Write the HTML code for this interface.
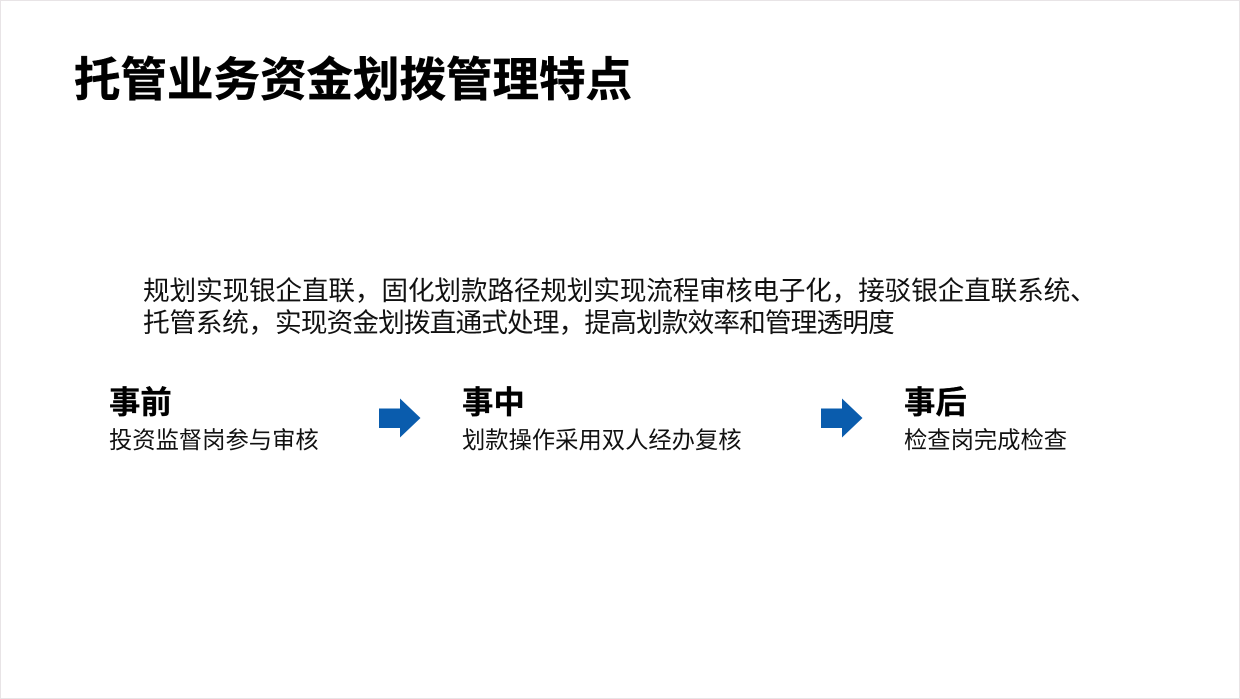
<!DOCTYPE html>
<html lang="zh">
<head>
<meta charset="utf-8">
<style>
html,body{margin:0;padding:0;background:#fff;}
#p{position:relative;width:1240px;height:699px;overflow:hidden;background:#fff;box-sizing:border-box;border:1.5px solid #e8e4e6;font-family:"Liberation Sans","Noto Sans CJK SC",sans-serif;color:#111;}
#p div.t{position:absolute;white-space:nowrap;}
svg{position:absolute;left:0;top:0;}
</style>
</head>
<body>
<div id="p">
<div class="t" style="left:73px;top:45px;font-size:46.5px;line-height:68px;font-weight:700;color:#000;-webkit-text-stroke:0.5px #000;">托管业务资金划拨管理特点</div>
<div class="t" style="left:142px;top:274px;font-size:26.7px;line-height:32px;letter-spacing:-0.2px;">规划实现银企直联，固化划款路径规划实现流程审核电子化，接驳银企直联系统、</div>
<div class="t" style="left:142px;top:306px;font-size:26.7px;line-height:32px;letter-spacing:-0.9px;"><span style="letter-spacing:-0.3px;">托管系统，</span>实现资金划拨直通式处理，提高划款效率和管理透明度</div>
<div class="t" style="left:108px;top:382px;font-size:31.4px;line-height:40px;font-weight:700;color:#000;-webkit-text-stroke:0.3px #000;">事前</div>
<div class="t" style="left:108px;top:423px;font-size:23.3px;line-height:32px;">投资监督岗参与审核</div>
<div class="t" style="left:461px;top:382px;font-size:31.4px;line-height:40px;font-weight:700;color:#000;-webkit-text-stroke:0.3px #000;">事中</div>
<div class="t" style="left:461px;top:423px;font-size:23.3px;line-height:32px;">划款操作采用双人经办复核</div>
<div class="t" style="left:903px;top:382px;font-size:31.4px;line-height:40px;font-weight:700;color:#000;-webkit-text-stroke:0.3px #000;">事后</div>
<div class="t" style="left:903px;top:423px;font-size:23.3px;line-height:32px;">检查岗完成检查</div>
<svg width="1240" height="699" viewBox="1 1 1240 699">
<polygon points="379,408.500 400,408.500 400,398.500 420.500,418 400,437.500 400,428 379,428" fill="#0a5cad"/>
<polygon points="821,408.500 842,408.500 842,398.500 862.500,418 842,437.500 842,428 821,428" fill="#0a5cad"/>
</svg>
</div>
</body>
</html>
